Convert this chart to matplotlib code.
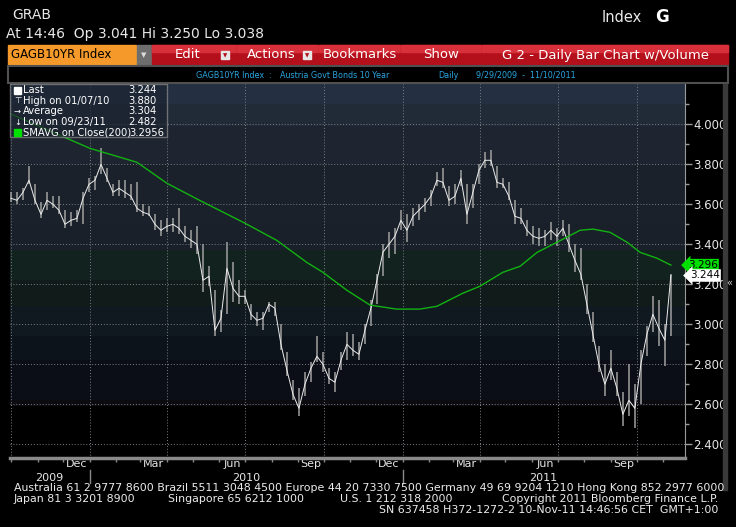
import numpy as np
import pandas as pd
import matplotlib
matplotlib.use("Agg")
import matplotlib.pyplot as plt
import matplotlib.dates as mdates
from matplotlib.patches import Rectangle
from matplotlib.ticker import FixedLocator, FormatStrFormatter

plt.rcParams['font.family'] = ['Liberation Sans Narrow', 'DejaVu Sans']

# weekly bars (GAGB10YR, 9/29/2009 - 11/10/2011)
dates = pd.date_range('2009-10-01', periods=111, freq='7D')
highs = [3.66, 3.66, 3.68, 3.79, 3.70, 3.61, 3.66, 3.64, 3.64, 3.57,
         3.56, 3.57, 3.66, 3.73, 3.74, 3.88, 3.78, 3.70, 3.72, 3.72,
         3.70, 3.71, 3.60, 3.59, 3.55, 3.52, 3.53, 3.53, 3.58, 3.49,
         3.47, 3.49, 3.40, 3.29, 3.17, 3.07, 3.41, 3.31, 3.22, 3.17,
         3.10, 3.06, 3.06, 3.11, 3.11, 3.00, 2.86, 2.72, 2.68, 2.76,
         2.81, 2.94, 2.86, 2.78, 2.76, 2.86, 2.96, 2.95, 2.91, 3.00,
         3.12, 3.25, 3.40, 3.46, 3.48, 3.57, 3.55, 3.58, 3.60, 3.63,
         3.67, 3.76, 3.78, 3.69, 3.70, 3.77, 3.70, 3.70, 3.80, 3.86,
         3.87, 3.79, 3.73, 3.71, 3.62, 3.58, 3.52, 3.49, 3.48, 3.47,
         3.51, 3.48, 3.52, 3.50, 3.40, 3.38, 3.20, 3.06, 2.89, 2.80,
         2.87, 2.76, 2.66, 2.80, 2.70, 2.87, 2.99, 3.14, 3.12, 3.00,
         3.25]
lows = [3.61, 3.60, 3.62, 3.70, 3.60, 3.53, 3.57, 3.58, 3.55, 3.48,
        3.49, 3.51, 3.50, 3.66, 3.67, 3.75, 3.71, 3.64, 3.64, 3.63,
        3.62, 3.56, 3.54, 3.54, 3.47, 3.44, 3.46, 3.46, 3.45, 3.41,
        3.38, 3.35, 3.16, 3.19, 2.94, 2.96, 3.05, 3.11, 3.10, 3.10,
        3.02, 2.99, 2.97, 3.06, 3.04, 2.87, 2.74, 2.62, 2.54, 2.64,
        2.71, 2.81, 2.76, 2.70, 2.66, 2.77, 2.82, 2.84, 2.82, 2.90,
        2.99, 3.10, 3.24, 3.33, 3.35, 3.47, 3.41, 3.49, 3.52, 3.56,
        3.59, 3.69, 3.68, 3.59, 3.60, 3.69, 3.50, 3.58, 3.70, 3.78,
        3.79, 3.68, 3.68, 3.62, 3.50, 3.50, 3.44, 3.40, 3.39, 3.39,
        3.42, 3.39, 3.44, 3.36, 3.26, 3.22, 3.05, 2.91, 2.76, 2.64,
        2.72, 2.64, 2.49, 2.54, 2.482, 2.60, 2.84, 2.96, 2.89, 2.79,
        2.94]
closes = [3.63, 3.62, 3.66, 3.72, 3.62, 3.55, 3.62, 3.60, 3.57, 3.50,
          3.52, 3.53, 3.63, 3.70, 3.72, 3.80, 3.73, 3.66, 3.68, 3.66,
          3.64, 3.58, 3.56, 3.55, 3.50, 3.47, 3.49, 3.50, 3.48, 3.44,
          3.42, 3.40, 3.22, 3.24, 2.97, 3.03, 3.28, 3.18, 3.14, 3.14,
          3.05, 3.02, 3.03, 3.10, 3.08, 2.90, 2.77, 2.65, 2.58, 2.70,
          2.78, 2.84, 2.80, 2.73, 2.71, 2.82, 2.90, 2.87, 2.85, 2.97,
          3.08, 3.22, 3.36, 3.40, 3.44, 3.52, 3.47, 3.54, 3.57, 3.60,
          3.64, 3.72, 3.71, 3.62, 3.64, 3.73, 3.55, 3.66, 3.77, 3.82,
          3.82, 3.71, 3.70, 3.64, 3.54, 3.53, 3.47, 3.44, 3.43, 3.44,
          3.47, 3.44, 3.48, 3.40, 3.32, 3.25, 3.10, 2.95, 2.80, 2.70,
          2.78, 2.68, 2.55, 2.62, 2.58, 2.80, 2.95, 3.05, 2.98, 2.92,
          3.244]

# 200-day simple moving average, read at a few dates
sma_dates = pd.to_datetime([
    '2009-09-29', '2010-01-01', '2010-02-25', '2010-04-01', '2010-05-09',
    '2010-06-29', '2010-08-07', '2010-09-11', '2010-09-30', '2010-10-28',
    '2010-11-24', '2010-12-25', '2011-01-21', '2011-02-10', '2011-03-12',
    '2011-04-01', '2011-04-28', '2011-05-18', '2011-06-07', '2011-06-30',
    '2011-07-27', '2011-08-11', '2011-08-31', '2011-09-20', '2011-10-05',
    '2011-10-25', '2011-11-10'])
sma_vals = [4.055, 3.88, 3.81, 3.705, 3.62, 3.51, 3.42, 3.31, 3.26, 3.17,
            3.096, 3.076, 3.076, 3.09, 3.155, 3.19, 3.26, 3.29, 3.36, 3.41,
            3.47, 3.476, 3.46, 3.41, 3.36, 3.33, 3.296]

yticks = [2.4, 2.6, 2.8, 3.0, 3.2, 3.4, 3.6, 3.8, 4.0]
month_labels = ['Dec', 'Mar', 'Jun', 'Sep', 'Dec', 'Mar', 'Jun', 'Sep']
month_dates = pd.to_datetime(['2009-12-16', '2010-03-16', '2010-06-16', '2010-09-16',
                              '2010-12-16', '2011-03-16', '2011-06-16', '2011-09-16'])
quarter_lines = pd.to_datetime(['2009-10-01', '2010-01-01', '2010-04-01', '2010-07-01',
                                '2010-10-01', '2011-01-01', '2011-04-01', '2011-07-01',
                                '2011-10-01'])
legend_rows = [('Last', '3.244'), ('High on 01/07/10', '3.880'), ('Average', '3.304'),
               ('Low on 09/23/11', '2.482'), ('SMAVG on Close(200)', '3.2956')]

W, H = 736, 527
fig = plt.figure(figsize=(W / 100, H / 100), dpi=100, facecolor='black')


def fx(x):
    return x / W


def fy(y):
    return 1 - y / H


def box(x0, y0, x1, y1, **kw):
    fig.add_artist(Rectangle((fx(x0), fy(y1)), (x1 - x0) / W, (y1 - y0) / H,
                             transform=fig.transFigure, **kw))


def txt(x, y, s, **kw):
    kw.setdefault('va', 'center')
    fig.text(fx(x), fy(y), s, **kw)


# header
txt(12, 15, 'GRAB', color='#e8e8e8', fontsize=10)
txt(602, 17, 'Index', color='#e8e8e8', fontsize=10.5)
txt(655, 17, 'G', color='white', fontsize=12, fontweight='bold', family='DejaVu Sans')
txt(6, 34, 'At 14:46  Op 3.041 Hi 3.250 Lo 3.038', color='#e8e8e8', fontsize=10)

# toolbar
box(8, 45, 136, 64, color='#f59a2a')
txt(11, 55, 'GAGB10YR Index', color='black', fontsize=8.5)
box(137, 45, 151, 64, color='#6e6e6e')
txt(144, 55, '▼', color='#dddddd', fontsize=5, ha='center', family='DejaVu Sans')
buttons = [(152, 236, 'Edit', True), (237, 318, 'Actions', True), (319, 400, 'Bookmarks', False),
           (401, 481, 'Show', False), (482, 728, 'G 2 - Daily Bar Chart w/Volume', False)]
for x0, x1, label, drop in buttons:
    box(x0, 45, x1, 64, color='#b4101c')
    box(x0, 45, x1, 52, color='#d8303a')
    cx = (x0 + x1) / 2 - (6 if drop else 0)
    txt(cx, 55, label, color='white', fontsize=9.5, ha='center')
    if drop:
        box(x1 - 15, 51, x1 - 7, 59, color='#e6e6e6')
        txt(x1 - 11, 55.5, '▼', color='#b4101c', fontsize=4, ha='center', family='DejaVu Sans')

# subtitle bar
box(8, 66, 728, 83, facecolor='black', edgecolor='#505050', lw=1.5)
cyan = '#2ba6e0'
txt(196, 75, 'GAGB10YR Index', color=cyan, fontsize=5.8)
txt(268, 75, ':', color=cyan, fontsize=5.8)
txt(280, 75, 'Austria Govt Bonds 10 Year', color=cyan, fontsize=5.8)
txt(438, 75, 'Daily', color=cyan, fontsize=5.8)
txt(476, 75, '9/29/2009  -  11/10/2011', color=cyan, fontsize=5.8)

# main chart
ax = fig.add_axes([fx(10), fy(458), 675 / W, 374 / H])
ax.set_facecolor('black')
bands = [(4.21, 4.10, '#243042'), (4.10, 3.99, '#212a37'), (3.99, 3.80, '#1e2530'),
         (3.80, 3.50, '#1b212a'), (3.50, 3.37, '#192029'), (3.37, 3.22, '#12221f'),
         (3.22, 3.09, '#111c1a'), (3.09, 2.94, '#101820'), (2.94, 2.82, '#0d131a'),
         (2.82, 2.62, '#0b0e17'), (2.62, 2.59, '#0c0c10')]
for top, bot, c in bands:
    ax.axhspan(bot, top, color=c, lw=0, zorder=0)

for v in yticks:
    ax.axhline(v, color='#7a7f86', lw=0.7, ls=(0, (1, 2)), zorder=1)
for d in quarter_lines:
    ax.axvline(d, color='#7a7f86', lw=0.7, ls=(0, (1, 2)), zorder=1)

ax.vlines(dates, lows, highs, color='#a0a0a0', lw=1.1, zorder=3)
ax.plot(dates, closes, color='#ececec', lw=0.7, zorder=4)
ax.plot(sma_dates, sma_vals, color='#12b212', lw=1.0, zorder=5)

ax.set_ylim(2.3315, 4.2015)
ax.set_xlim(pd.Timestamp('2009-09-29 20:00'), pd.Timestamp('2011-11-26 12:00'))

ax.yaxis.tick_right()
ax.yaxis.set_major_locator(FixedLocator(yticks))
ax.yaxis.set_minor_locator(FixedLocator(np.arange(2.4, 4.15, 0.1)))
ax.yaxis.set_major_formatter(FormatStrFormatter('%.3f'))
ax.tick_params(axis='y', which='major', colors='#9a9a9a', labelcolor='#e6e6e6',
               length=5, width=1, labelsize=8.5, pad=1)
ax.tick_params(axis='y', which='minor', colors='#9a9a9a', length=3, width=1)

ax.xaxis.set_major_locator(FixedLocator(mdates.date2num(month_dates)))
ax.set_xticklabels(month_labels)
ax.xaxis.set_minor_locator(mdates.MonthLocator())
ax.tick_params(axis='x', which='major', length=0, labelcolor='#e6e6e6', labelsize=8, pad=1)
ax.tick_params(axis='x', which='minor', colors='#8a8a8a', length=3, width=1)

for s in ['top', 'left']:
    ax.spines[s].set_visible(False)
ax.spines['right'].set_color('#9a9a9a')
ax.spines['bottom'].set_color('#8a8a8a')
ax.spines['bottom'].set_linewidth(2.5)

# year labels with separators
tr = ax.get_xaxis_transform()
years = [('2009', pd.Timestamp('2009-11-15')), ('2010', pd.Timestamp('2010-07-02')),
         ('2011', pd.Timestamp('2011-06-14'))]
for lab, d in years:
    ax.text(d, -0.054, lab, transform=tr, color='#e6e6e6', fontsize=8,
            ha='center', va='center')
for d in pd.to_datetime(['2010-01-01', '2011-01-01']):
    ax.plot([d, d], [-0.032, -0.066], transform=tr, color='#8a8a8a', lw=1, clip_on=False)

# last-value tags
ax.text(1.004, sma_vals[-1], '3.296', transform=ax.get_yaxis_transform(), color='black',
        fontsize=7.5, va='center', ha='left', zorder=10,
        bbox=dict(boxstyle='larrow,pad=0.12', fc='#00e000', ec='none'))
ax.text(1.007, closes[-1], '3.244', transform=ax.get_yaxis_transform(), color='black',
        fontsize=7.5, va='center', ha='left', zorder=10,
        bbox=dict(boxstyle='larrow,pad=0.12', fc='white', ec='none'))

# legend box (translucent, the average line shows through)
box(10, 84, 167, 137, facecolor='#1c2430', edgecolor='#8a8a8a', lw=1, alpha=0.7)
symbols = ['', '⊤', '→', '↓', '']
for i, ((lab, val), sym) in enumerate(zip(legend_rows, symbols)):
    yy = 90 + i * 10.7
    if i == 0:
        box(14, yy - 3.5, 21, yy + 3.5, color='white')
    elif i == 4:
        box(14, yy - 3.5, 21, yy + 3.5, color='#00e000')
    else:
        txt(17.5, yy, sym, color='white', fontsize=6, ha='center', family='DejaVu Sans')
    txt(23, yy, lab, color='white', fontsize=7.2)
    txt(164 if i == 4 else 157, yy, val, color='white', fontsize=7.2, ha='right')

# right scrollbar
box(723, 84, 727, 490, color='#3a3a3a')
txt(729, 283, '«', color='#cccccc', fontsize=7, ha='center', family='DejaVu Sans')

# footer
fc = '#ececec'
fs = 7.9
txt(14, 488, 'Australia 61 2 9777 8600 Brazil 5511 3048 4500 Europe 44 20 7330 7500 '
    'Germany 49 69 9204 1210 Hong Kong 852 2977 6000', color=fc, fontsize=fs)
txt(14, 499, 'Japan 81 3 3201 8900', color=fc, fontsize=fs)
txt(168, 499, 'Singapore 65 6212 1000', color=fc, fontsize=fs)
txt(340, 499, 'U.S. 1 212 318 2000', color=fc, fontsize=fs)
txt(718, 499, 'Copyright 2011 Bloomberg Finance L.P.', color=fc, fontsize=fs, ha='right')
txt(718, 510, 'SN 637458 H372-1272-2 10-Nov-11 14:46:56 CET  GMT+1:00', color=fc,
    fontsize=fs, ha='right')

fig.savefig('out.png', dpi=100, facecolor='black')
